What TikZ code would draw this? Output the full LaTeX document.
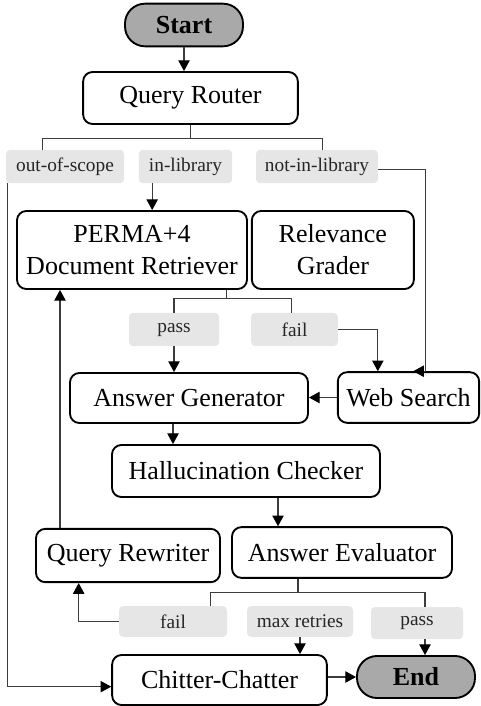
\documentclass[tikz,border=0pt]{standalone}
\usepackage{fontspec}
\setmainfont{Liberation Serif}
\usetikzlibrary{positioning, arrows.meta}

\definecolor{termgray}{HTML}{A9A9A9}
\definecolor{tagfill}{HTML}{E6E6E6}
\definecolor{wiregray}{HTML}{3C3C3C}

\begin{document}
\begin{tikzpicture}[
    x=0.75pt, y=-0.75pt,
    box/.style={draw, rectangle, rounded corners=7pt, line width=1.4pt, align=center, inner sep=0pt, font=\fontsize{19.5}{24}\selectfont},
    term/.style={box, fill=termgray, rounded corners=15pt, font=\fontsize{19.5}{24}\selectfont\bfseries},
    tag/.style={rectangle, fill=tagfill, rounded corners=3pt, inner sep=0pt, minimum height=25pt, font=\fontsize{14.5}{17}\selectfont, text=black!85},
    arrow/.style={-{Triangle[length=8pt,width=8.5pt,color=black]}, line width=0.8pt, draw=wiregray},
    wire/.style={line width=0.8pt, draw=wiregray}
]
\useasboundingbox (0,0) rectangle (480,706);

% Entry and routing
\node[term, minimum width=88.5pt, minimum height=32pt] (start) at (184,25) {Start};
\node[box, minimum width=161pt, minimum height=39pt] (router) at (190.5,98) {Query Router};
\node[tag, minimum width=88.5pt] (scope) at (65,166.5) {out-of-scope};
\node[tag, minimum width=70pt] (inlib) at (185.5,166.5) {in-library};
\node[tag, minimum width=91.5pt] (notlib) at (317,166.5) {not-in-library};

% Retrieval and grading
\node[box, minimum width=172.5pt, minimum height=58.5pt] (retriever) at (132,250) {PERMA+4\\Document Retriever};
\node[box, minimum width=121.5pt, minimum height=58.5pt, right=2.25pt of retriever] (grader) {Relevance\\Grader};
\node[tag, minimum width=67.5pt] (gpass) at (174,329.5) {pass};
\node[tag, minimum width=65pt] (gfail) at (294.5,329.5) {fail};

% Generation
\node[box, minimum width=178.5pt, minimum height=37.5pt] (generator) at (189,398) {Answer Generator};
\node[box, minimum width=106pt, minimum height=38pt] (search) at (408.5,397.5) {Web Search};
\node[box, minimum width=201pt, minimum height=39pt] (checker) at (246,471) {Hallucination Checker};
\node[box, minimum width=165pt, minimum height=38pt] (evaluator) at (342,552.5) {Answer Evaluator};
\node[box, minimum width=138pt, minimum height=40pt] (rewriter) at (128,555.5) {Query Rewriter};
\node[tag, minimum width=81pt, minimum height=23pt] (efail) at (173,621.5) {fail};
\node[tag, minimum width=79.5pt, minimum height=23pt] (retries) at (300,621.5) {max retries};
\node[tag, minimum width=69pt, minimum height=24pt] (epass) at (417,623) {pass};

% Exit
\node[box, minimum width=161pt, minimum height=37.5pt] (chatter) at (219.5,680) {Chitter-Chatter};
\node[term, minimum width=88.5pt, minimum height=31.5pt] (finish) at (416,677) {End};

% Router branches
\draw[arrow] (start.south) -- (start.south |- router.north);
\draw[wire] (router.south) -- ++(0,14) coordinate (rsplit);
\draw[wire] ([xshift=-17pt]scope.north) |- (rsplit) -| ([xshift=4pt]notlib.north);
\draw[arrow] ([xshift=-25pt]inlib.south) -- ([xshift=-25pt]inlib.south |- retriever.north);
\draw[arrow] ([xshift=1.5pt]scope.south west) |- ([yshift=-5pt]chatter.west);
\draw[arrow] ([yshift=-2.5pt]notlib.east) -| ([xshift=12.5pt]search.north) -- ([xshift=3.5pt]search.north);

% Grader branches
\draw[wire] ([xshift=71pt]retriever.south) -- ++(0,9) coordinate (gsplit);
\draw[wire] (gpass.north) |- (gsplit) -| ([xshift=-2pt]gfail.north);
\draw[arrow] (gpass.south) -- (gpass.south |- generator.north);
\draw[arrow] (gfail.east) -| ([xshift=-23pt]search.north);
\draw[arrow] (search.west) -- (search.west -| generator.east);

% Checking loop
\draw[arrow] ([xshift=-12pt]generator.south) -- ([xshift=-12pt]generator.south |- checker.north);
\draw[arrow] ([xshift=24pt]checker.south) -- ([xshift=24pt]checker.south |- evaluator.north);
\draw[arrow] ([xshift=-51pt]rewriter.north) -- ([xshift=-51pt]rewriter.north |- retriever.south);

% Evaluator branches
\draw[wire] ([xshift=-33pt]evaluator.south) -- ++(0,14) coordinate (esplit);
\draw[wire] ([xshift=28pt]efail.north) |- (esplit) -| ([xshift=6pt]epass.north);
\draw[arrow] (efail.west) -| ([xshift=-37pt]rewriter.south);
\draw[arrow] (retries.south) -- (retries.south |- chatter.north);
\draw[arrow] ([xshift=6pt]epass.south) -- ([xshift=6pt]epass.south |- finish.north);
\draw[arrow] (finish.west -| chatter.east) -- (finish.west);

\end{tikzpicture}
\end{document}
